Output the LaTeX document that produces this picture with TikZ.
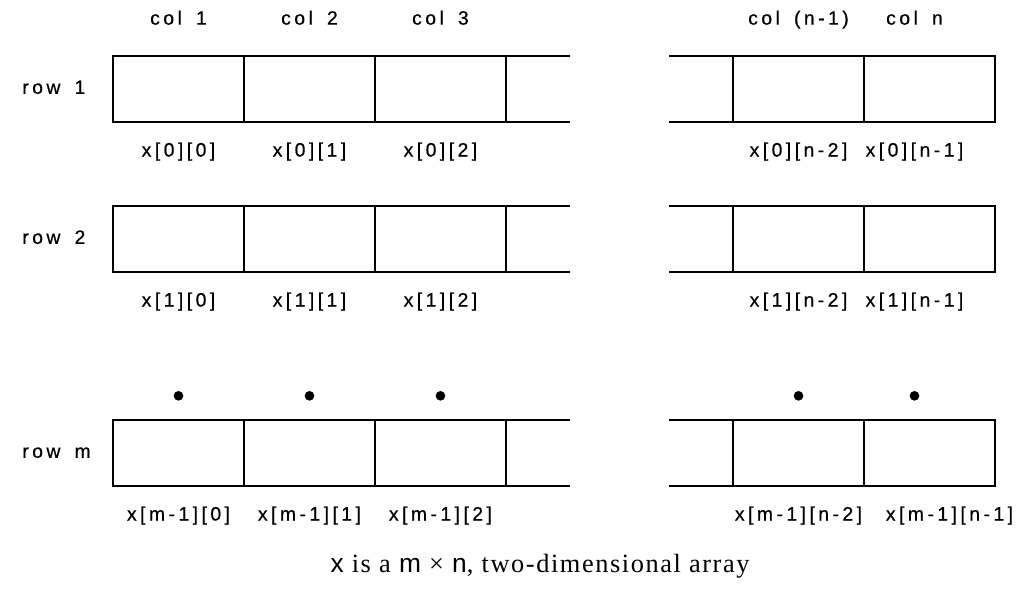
\documentclass[tikz,border=0pt]{standalone}
\usepackage{fontspec}
\setmainfont{Liberation Serif}
\newfontfamily\arrfont[LetterSpace=18, WordSpace=1.6, FakeBold=0.6]{Liberation Sans}
\newfontfamily\varfont{Liberation Sans}
\newfontfamily\capfont[LetterSpace=6]{Liberation Serif}
\usetikzlibrary{positioning}

\begin{document}
\begin{tikzpicture}[x=0.02cm, y=-0.02cm,
  cell/.style={draw, line width=1.3pt, minimum width=2.62cm, minimum height=1.32cm,
               inner sep=0pt, outer sep=0pt},
  open/.style={line width=1.3pt},
  lbl/.style={font=\fontsize{11}{13}\selectfont\arrfont, inner sep=0pt,
              text height=0.75em, text depth=0.2em},
  dot/.style={circle, fill, inner sep=0pt, minimum size=5.5pt}]
  \useasboundingbox (0,0) rectangle (1030,591);
  % the three rows drawn, each cut open between col 3 and col (n-1)
  \foreach \rw/\yy/\ii/\sh in {1/89/0/-0.3, 2/239/1/-0.3, m/453/m-1/0.4} {
    \node[cell] (r\rw c1) at (178.5,\yy) {};
    \node[cell, right=0pt of r\rw c1] (r\rw c2) {};
    \node[cell, right=0pt of r\rw c2] (r\rw c3) {};
    \node[cell] (r\rw cm) at (798.5,\yy) {};
    \node[cell, right=0pt of r\rw cm] (r\rw cn) {};
    \draw[open] (r\rw c3.north east) -- ++(64,0) (r\rw c3.south east) -- ++(64,0);
    \draw[open] (r\rw cm.north west) -- ++(-64,0) (r\rw cm.south west) -- ++(-64,0);
    \node[lbl, anchor=west] (row\rw) at (22,\yy) {row \rw};
    \node[lbl, below=0.42cm of r\rw c1] (x\rw c1) {x[\ii][0]};
    \node[lbl, below=0.42cm of r\rw c2] (x\rw c2) {x[\ii][1]};
    \node[lbl, below=0.42cm of r\rw c3] (x\rw c3) {x[\ii][2]};
    \node[lbl, below=0.42cm of r\rw cm] (x\rw cm) {x[\ii][n-2]};
    \node[lbl, below=0.42cm of r\rw cn, xshift=\sh cm] (x\rw cn) {x[\ii][n-1]};
  }
  % column heads
  \node[lbl, above=0.55cm of r1c1] (h1) {col 1};
  \node[lbl, above=0.55cm of r1c2] (h2) {col 2};
  \node[lbl, above=0.55cm of r1c3] (h3) {col 3};
  \node[lbl, above=0.55cm of r1cm] (hm) {col (n-1)};
  \node[lbl, above=0.55cm of r1cn, xshift=-0.3cm] (hn) {col n};
  % dots for the rows left out
  \node[dot, above=0.38cm of rmc1] (d1) {};
  \node[dot, above=0.38cm of rmc2] (d2) {};
  \node[dot, above=0.38cm of rmc3] (d3) {};
  \node[dot, above=0.38cm of rmcm] (dm) {};
  \node[dot, above=0.38cm of rmcn, xshift=-0.3cm] (dn) {};
  \node[font=\fontsize{15}{18}\selectfont\capfont] (cap) at (540,566)
    {{\varfont x} is a {\varfont m} × {\varfont n}, two-dimensional array};
\end{tikzpicture}
\end{document}
